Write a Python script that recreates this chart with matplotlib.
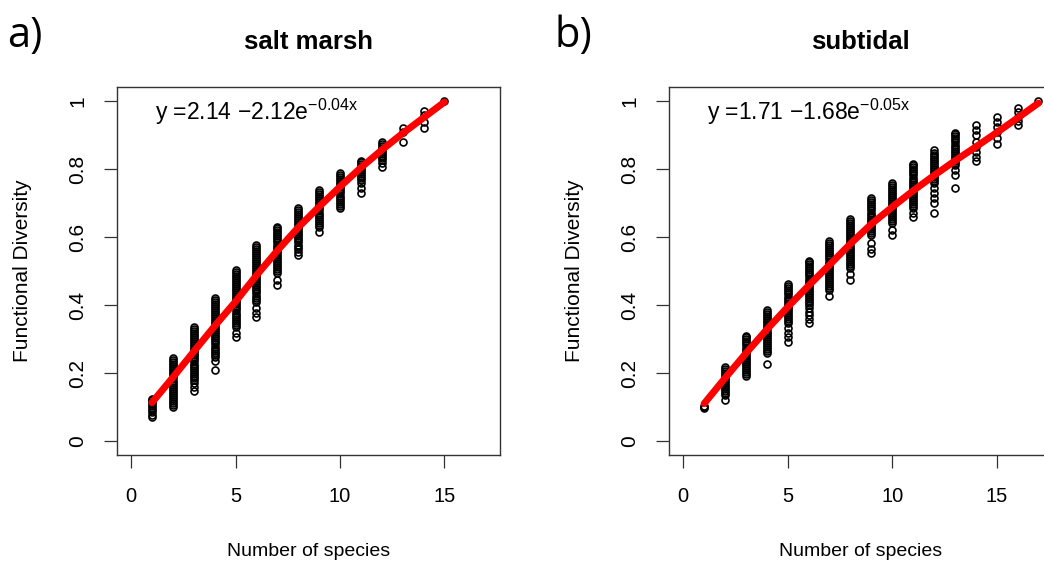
import matplotlib
matplotlib.use("Agg")
import matplotlib.pyplot as plt

plt.rcParams["font.family"] = ["Liberation Sans", "DejaVu Sans"]
plt.rcParams["mathtext.default"] = "regular"

# salt marsh: functional diversity per number of species
salt_x = list(range(1, 16))
salt_y = [
    [0.072, 0.078, 0.084, 0.090, 0.096, 0.102, 0.108, 0.114, 0.120, 0.124],
    [0.100, 0.106, 0.112, 0.118, 0.124, 0.130, 0.136, 0.142, 0.148, 0.154,
     0.160, 0.166, 0.172, 0.178, 0.184, 0.190, 0.196, 0.202, 0.208, 0.214,
     0.220, 0.226, 0.232, 0.238, 0.244],
    [0.148, 0.160, 0.172, 0.180, 0.186, 0.192, 0.198, 0.204, 0.210, 0.216,
     0.222, 0.228, 0.234, 0.240, 0.246, 0.252, 0.258, 0.264, 0.270, 0.276,
     0.282, 0.288, 0.294, 0.300, 0.306, 0.312, 0.318, 0.324, 0.330, 0.336],
    [0.210, 0.234, 0.248, 0.254, 0.260, 0.266, 0.272, 0.278, 0.284, 0.290,
     0.296, 0.302, 0.308, 0.314, 0.320, 0.326, 0.332, 0.338, 0.344, 0.350,
     0.356, 0.362, 0.368, 0.374, 0.380, 0.386, 0.392, 0.398, 0.404, 0.410,
     0.416, 0.420],
    [0.305, 0.318, 0.336, 0.342, 0.348, 0.354, 0.360, 0.366, 0.372, 0.378,
     0.384, 0.390, 0.396, 0.402, 0.408, 0.414, 0.420, 0.426, 0.432, 0.438,
     0.444, 0.450, 0.456, 0.462, 0.468, 0.474, 0.480, 0.486, 0.492, 0.498, 0.504],
    [0.366, 0.378, 0.390, 0.410, 0.416, 0.422, 0.428, 0.434, 0.440, 0.446,
     0.452, 0.458, 0.464, 0.470, 0.476, 0.482, 0.488, 0.494, 0.500, 0.506,
     0.512, 0.518, 0.524, 0.530, 0.536, 0.542, 0.548, 0.554, 0.560, 0.566,
     0.572, 0.576],
    [0.460, 0.473, 0.494, 0.500, 0.506, 0.512, 0.518, 0.524, 0.530, 0.536,
     0.542, 0.548, 0.554, 0.560, 0.566, 0.572, 0.578, 0.584, 0.590, 0.596,
     0.602, 0.608, 0.614, 0.620, 0.626, 0.630],
    [0.547, 0.556, 0.566, 0.572, 0.578, 0.584, 0.590, 0.596, 0.602, 0.608,
     0.614, 0.620, 0.626, 0.632, 0.638, 0.644, 0.650, 0.656, 0.662, 0.668,
     0.674, 0.680, 0.685],
    [0.615, 0.630, 0.636, 0.642, 0.648, 0.654, 0.660, 0.666, 0.672, 0.678,
     0.684, 0.690, 0.696, 0.702, 0.708, 0.714, 0.720, 0.726, 0.732, 0.738],
    [0.686, 0.692, 0.698, 0.704, 0.710, 0.716, 0.722, 0.728, 0.734, 0.740,
     0.746, 0.752, 0.758, 0.764, 0.770, 0.776, 0.782, 0.788],
    [0.729, 0.744, 0.759, 0.767, 0.773, 0.779, 0.785, 0.791, 0.797, 0.803,
     0.809, 0.815, 0.821, 0.823],
    [0.806, 0.818, 0.826, 0.832, 0.838, 0.844, 0.850, 0.856, 0.862, 0.868,
     0.874, 0.880],
    [0.879, 0.908, 0.921],
    [0.921, 0.939, 0.959, 0.970],
    [1.0],
]
salt_fit = [0.113, 0.187, 0.263, 0.338, 0.410, 0.487, 0.560, 0.628, 0.689,
            0.748, 0.804, 0.856, 0.905, 0.951, 0.997]
salt_eq = r"y =2.14 $-$2.12e$^{-0.04x}$"

# subtidal
sub_x = list(range(1, 18))
sub_y = [
    [0.097, 0.100, 0.104],
    [0.120, 0.135, 0.141, 0.147, 0.153, 0.159, 0.165, 0.171, 0.177, 0.183,
     0.189, 0.195, 0.201, 0.207, 0.213, 0.219],
    [0.191, 0.197, 0.203, 0.209, 0.215, 0.221, 0.227, 0.233, 0.239, 0.245,
     0.251, 0.257, 0.263, 0.269, 0.275, 0.281, 0.287, 0.293, 0.299, 0.305, 0.309],
    [0.226, 0.259, 0.265, 0.271, 0.277, 0.283, 0.289, 0.295, 0.301, 0.307,
     0.313, 0.319, 0.325, 0.331, 0.337, 0.343, 0.349, 0.355, 0.361, 0.367,
     0.373, 0.379, 0.385],
    [0.291, 0.305, 0.318, 0.332, 0.347, 0.353, 0.359, 0.365, 0.371, 0.377,
     0.383, 0.389, 0.395, 0.401, 0.407, 0.413, 0.419, 0.425, 0.431, 0.437,
     0.443, 0.449, 0.455, 0.461],
    [0.347, 0.358, 0.370, 0.380, 0.391, 0.400, 0.406, 0.412, 0.418, 0.424,
     0.430, 0.436, 0.442, 0.448, 0.454, 0.460, 0.466, 0.472, 0.478, 0.484,
     0.490, 0.496, 0.502, 0.508, 0.514, 0.520, 0.526, 0.529],
    [0.426, 0.444, 0.450, 0.456, 0.462, 0.468, 0.474, 0.480, 0.486, 0.492,
     0.498, 0.504, 0.510, 0.516, 0.522, 0.528, 0.534, 0.540, 0.546, 0.552,
     0.558, 0.564, 0.570, 0.576, 0.582, 0.588],
    [0.473, 0.490, 0.509, 0.515, 0.521, 0.527, 0.533, 0.539, 0.545, 0.551,
     0.557, 0.563, 0.569, 0.575, 0.581, 0.587, 0.593, 0.599, 0.605, 0.611,
     0.617, 0.623, 0.629, 0.635, 0.641, 0.647, 0.653],
    [0.553, 0.565, 0.582, 0.606, 0.612, 0.618, 0.624, 0.630, 0.636, 0.642,
     0.648, 0.654, 0.660, 0.666, 0.672, 0.678, 0.684, 0.690, 0.696, 0.702,
     0.708, 0.714],
    [0.606, 0.620, 0.640, 0.646, 0.652, 0.658, 0.664, 0.670, 0.676, 0.682,
     0.688, 0.694, 0.700, 0.706, 0.712, 0.718, 0.724, 0.730, 0.736, 0.742,
     0.748, 0.754, 0.760],
    [0.659, 0.670, 0.685, 0.691, 0.697, 0.703, 0.709, 0.715, 0.721, 0.727,
     0.733, 0.739, 0.745, 0.751, 0.757, 0.763, 0.769, 0.775, 0.781, 0.787,
     0.793, 0.799, 0.805, 0.811, 0.814],
    [0.670, 0.700, 0.715, 0.729, 0.744, 0.758, 0.764, 0.770, 0.776, 0.782,
     0.788, 0.794, 0.800, 0.806, 0.812, 0.818, 0.824, 0.830, 0.836, 0.842,
     0.848, 0.855],
    [0.744, 0.782, 0.797, 0.812, 0.818, 0.824, 0.830, 0.836, 0.842, 0.848,
     0.854, 0.860, 0.866, 0.872, 0.878, 0.884, 0.890, 0.896, 0.902, 0.905],
    [0.824, 0.836, 0.851, 0.866, 0.880, 0.900, 0.915, 0.929],
    [0.874, 0.890, 0.910, 0.924, 0.939, 0.954],
    [0.929, 0.941, 0.954, 0.969, 0.980],
    [1.0],
]
sub_fit = [0.110, 0.185, 0.258, 0.328, 0.394, 0.457, 0.518, 0.580, 0.638,
           0.688, 0.736, 0.781, 0.824, 0.865, 0.907, 0.950, 0.994]
sub_eq = r"y =1.71 $-$1.68e$^{-0.05x}$"

fig = plt.figure(figsize=(10.44, 5.68), dpi=100)
ax1 = fig.add_axes([0.1119, 0.1996, 0.3675, 0.6465])
ax2 = fig.add_axes([0.6408, 0.1996, 0.3675, 0.6465])


def panel(ax, xs, ys, fit, eq, title, tag, tag_x):
    for x, col in zip(xs, ys):
        ax.plot([x] * len(col), col, "o", ms=5, mfc="none", mec="black",
                mew=1.2, linestyle="none")
    ax.plot(xs, fit, color="#ff0000", lw=5, solid_capstyle="round")
    ax.set_xlim(-0.68, 17.68)
    ax.set_ylim(-0.04, 1.04)
    ax.set_xticks([0, 5, 10, 15])
    ax.set_yticks([0, 0.2, 0.4, 0.6, 0.8, 1])
    ax.set_yticklabels(["0", "0.2", "0.4", "0.6", "0.8", "1"])
    ax.tick_params(axis="both", direction="out", length=9.5, width=0.9,
                   color="#333333")
    ax.tick_params(axis="x", pad=14, labelsize=14.5)
    ax.tick_params(axis="y", pad=12, labelsize=15, labelrotation=90)
    for lab in ax.get_yticklabels():
        lab.set_va("center")
    for sp in ax.spines.values():
        sp.set_linewidth(1.0)
        sp.set_color("#333333")
    ax.set_xlabel("Number of species", fontsize=14)
    ax.xaxis.set_label_coords(0.5, -0.2625)
    ax.xaxis.label.set_va("center")
    ax.set_ylabel("Functional Diversity", fontsize=15)
    ax.yaxis.set_label_coords(-0.247, 0.5)
    ax.yaxis.label.set_va("center")
    ax.text(0.1, 0.932, eq, transform=ax.transAxes, fontsize=16.5,
            ha="left", va="center")
    ax.set_title(title, fontsize=18.5, fontweight="bold", pad=0, y=1.105)
    fig.text(tag_x, 0.917, tag, fontsize=30, family=["Open Sans", "DejaVu Sans"],
             ha="left", va="baseline")


panel(ax1, salt_x, salt_y, salt_fit, salt_eq, "salt marsh", "a)", 0.007)
panel(ax2, sub_x, sub_y, sub_fit, sub_eq, "subtidal", "b)", 0.531)

fig.savefig("out.png", dpi=100)
